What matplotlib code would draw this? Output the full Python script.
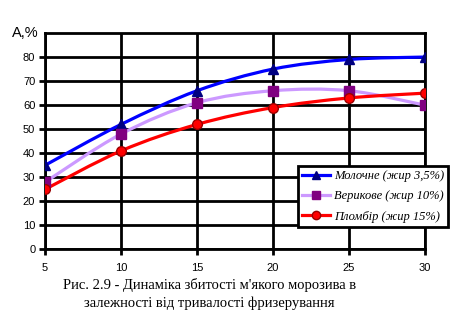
import numpy as np
import matplotlib
matplotlib.use("Agg")
import matplotlib.pyplot as plt
from matplotlib.path import Path
from matplotlib.patches import PathPatch

# тривалість фризерування, хв
x = [5, 10, 15, 20, 25, 30]
# збитість, %
moloch = [35, 52, 66, 75, 79, 80]
veryk = [28, 48, 61, 66, 66, 60]
plomb = [25, 41, 52, 59, 63, 65]

names = ["Молочне (жир 3,5%)", "Верикове (жир 10%)", "Пломбір (жир 15%)"]
line_colors = ["#0000FF", "#CC99FF", "#FF0000"]
markers = ["^", "s", "o"]
face_colors = ["#000080", "#800080", "#FF0000"]
edge_colors = ["#000080", "#800080", "#990000"]


def smooth_path(ax, xs, ys, color):
    # гладка крива як в Excel (Безьє через точки)
    pts = np.column_stack([xs, ys]).astype(float)
    n = len(pts)
    verts = [pts[0]]
    codes = [Path.MOVETO]
    for i in range(n - 1):
        p0 = pts[max(i - 1, 0)]
        p1 = pts[i]
        p2 = pts[i + 1]
        p3 = pts[min(i + 2, n - 1)]
        c1 = p1 + (p2 - p0) / 6.0
        c2 = p2 - (p3 - p1) / 6.0
        verts += [c1, c2, p2]
        codes += [Path.CURVE4] * 3
    patch = PathPatch(Path(verts, codes), facecolor="none", edgecolor=color,
                      lw=2.3, zorder=3)
    ax.add_patch(patch)


fig = plt.figure(figsize=(4.57, 3.22), dpi=100)
ax = fig.add_axes([0.0985, 0.2252, 0.8315, 0.6723])

series = [moloch, veryk, plomb]
handles = []
for ys, lc, m, fc, ec, nm in zip(series, line_colors, markers, face_colors, edge_colors, names):
    smooth_path(ax, x, ys, lc)
    ax.plot(x, ys, linestyle="none", marker=m, ms=7, mfc=fc, mec=ec, mew=1, zorder=4)
    h, = ax.plot([], [], color=lc, lw=2.3, marker=m, ms=6, mfc=fc, mec=ec, label=nm)
    handles.append(h)

ax.set_xlim(5, 30)
ax.set_ylim(0, 90)
ax.set_xticks(x)
ax.set_yticks(range(0, 90, 10))
ax.grid(True, color="black", lw=2)
ax.set_axisbelow(True)
for s in ax.spines.values():
    s.set_linewidth(2)
ax.tick_params(length=4, width=2, labelsize=8, pad=3)
ax.tick_params(axis="x", pad=6)
for lab in ax.get_xticklabels() + ax.get_yticklabels():
    lab.set_family("Liberation Sans")

fig.text(0.026, 0.897, "А,%", fontsize=10.5, family="Liberation Sans", va="center")

leg = ax.legend(handles=handles, loc="upper left", bbox_to_anchor=(0.666, 0.386),
                frameon=True, fancybox=False, framealpha=1, handlelength=2.2,
                handletextpad=0.3, borderpad=0.35, labelspacing=0.65, borderaxespad=0,
                prop={"family": "Liberation Serif", "style": "italic", "size": 9})
leg.get_frame().set_edgecolor("black")
leg.get_frame().set_linewidth(2)

fig.text(0.458, 0.115, "Рис. 2.9 - Динаміка збитості м'якого морозива в",
         ha="center", va="center", fontsize=10.5, family="Liberation Serif")
fig.text(0.458, 0.059, "залежності від тривалості фризерування",
         ha="center", va="center", fontsize=10.5, family="Liberation Serif")

fig.savefig("out.png", dpi=100)
